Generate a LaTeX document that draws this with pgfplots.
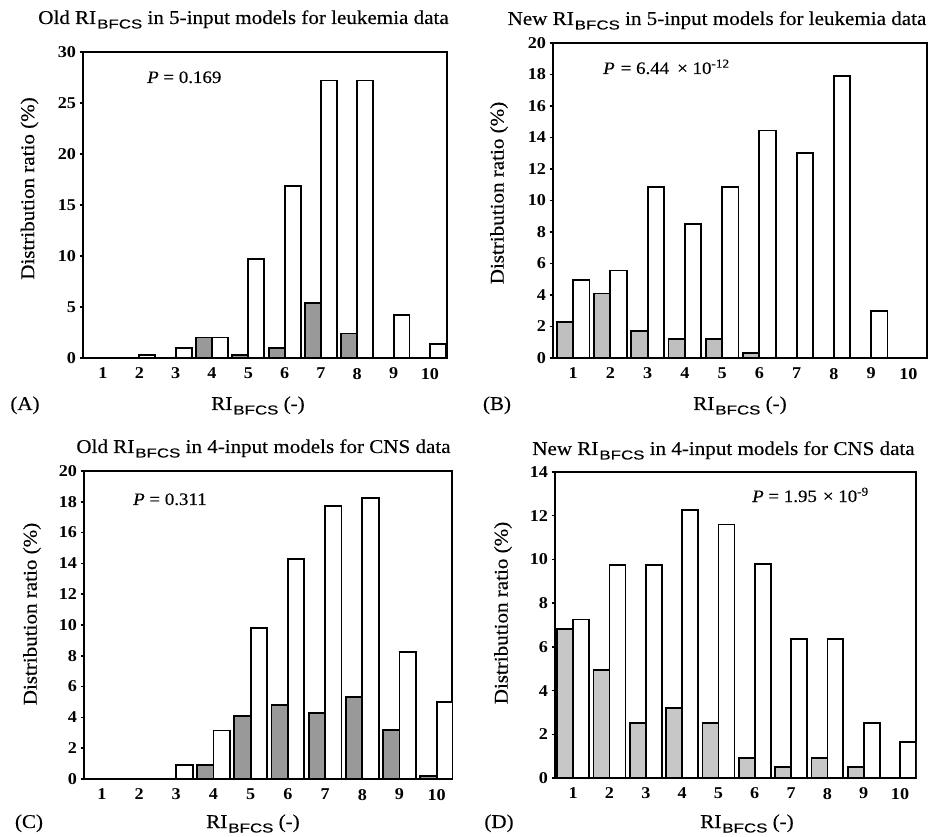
\documentclass[border=0pt]{standalone}
\usepackage{fontspec}
\setmainfont{Liberation Serif}[FakeStretch=1.08, FakeBold=0.3]
\newfontfamily\tickfont{Liberation Serif}[FakeStretch=1.1]
\newfontfamily\subfont{Liberation Sans}[FakeStretch=1.3, FakeBold=0.3]
\usepackage{pgfplots}
\pgfplotsset{compat=1.18}

\newcommand{\RI}{RI\kern1pt\raisebox{-4.5pt}{\fontsize{13}{13}\subfont BFCS}}
\newcommand{\ttl}{\fontsize{19.5}{22}\selectfont}
\newcommand{\pfont}{\fontsize{17.5}{20}\selectfont}

\pgfplotsset{
  panel/.style={
    scale only axis, anchor=south west,
    ymin=0, xtick={1,...,10},
    axis line style={line width=2pt},
    major tick length=3.5pt,
    tick align=outside,
    ytick pos=left,
    tick style={line width=1.5pt, black},
    xtick style={draw=none},
    tick label style={font=\fontsize{16.5}{16.5}\tickfont\bfseries},
    /pgf/number format/assume math mode=true,
    xticklabel style={yshift=-3pt},
    enlargelimits=false,
  },
  greybar/.style={ybar, bar width=0.44, bar shift=-0.22, draw=black, line width=1.8pt, fill=black!#1},
  whitebar/.style={ybar, bar width=0.44, bar shift=0.22, draw=black, line width=1.8pt, fill=white},
}

\pgfplotstableread{
x g w
1 0 0
2 0 0.3
3 0 0.95
4 2.0 2.0
5 0.3 9.7
6 1.0 16.9
7 5.4 27.2
8 2.4 27.2
9 0 4.2
10 0 1.35
}\dataA
\pgfplotstableread{
x g w
1 2.3 4.95
2 4.1 5.55
3 1.7 10.85
4 1.2 8.5
5 1.2 10.85
6 0.3 14.45
7 0 13.0
8 0 17.9
9 0 3.0
10 0 0
}\dataB
\pgfplotstableread{
x g w
1 0 0
2 0 0
3 0 0.9
4 0.9 3.15
5 4.1 9.8
6 4.8 14.3
7 4.3 17.75
8 5.3 18.25
9 3.2 8.25
10 0.2 5.0
}\dataC
\pgfplotstableread{
x g w
1 6.8 7.25
2 4.95 9.75
3 2.5 9.75
4 3.2 12.25
5 2.5 11.6
6 0.9 9.8
7 0.5 6.35
8 0.9 6.35
9 0.5 2.5
10 0 1.65
}\dataD

\begin{document}
\begin{tikzpicture}
\useasboundingbox (0pt,0pt) rectangle (931pt,836pt);

% Panel A
\begin{axis}[panel, at={(83pt,478pt)}, width=364pt, height=306pt,
  xmin=0.45, xmax=10.47, ymax=30, ytick={0,5,...,30}]
\addplot[greybar=40] table[x=x,y=g]{\dataA};
\addplot[whitebar] table[x=x,y=w]{\dataA};
\end{axis}

% Panel B
\begin{axis}[panel, at={(553pt,478pt)}, width=374pt, height=315pt,
  xmin=0.46, xmax=10.5, ymax=20, ytick={0,2,...,20}]
\addplot[greybar=25] table[x=x,y=g]{\dataB};
\addplot[whitebar] table[x=x,y=w]{\dataB};
\end{axis}

% Panel C
\begin{axis}[panel, at={(84pt,57pt)}, width=368pt, height=308pt,
  xmin=0.52, xmax=10.41, ymax=20, ytick={0,2,...,20}]
\addplot[greybar=40] table[x=x,y=g]{\dataC};
\addplot[whitebar] table[x=x,y=w]{\dataC};
\end{axis}

% Panel D
\begin{axis}[panel, at={(555pt,58pt)}, width=361pt, height=306pt,
  xmin=0.5, xmax=10.44, ymax=14, ytick={0,2,...,14}]
\addplot[greybar=22] table[x=x,y=g]{\dataD};
\addplot[whitebar] table[x=x,y=w]{\dataD};
\end{axis}

% Titles
\node[anchor=base] at (243.5pt,812pt) {\ttl Old \RI{} in 5-input models for leukemia data};
\node[anchor=base] at (717pt,811pt) {\ttl New \RI{} in 5-input models for leukemia data};
\node[anchor=base] at (263.5pt,383pt) {\ttl Old \RI{} in 4-input models for CNS data};
\node[anchor=base] at (723.5pt,381pt) {\ttl New \RI{} in 4-input models for CNS data};

% y labels
\node[rotate=90] at (29.5pt,647.5pt) {\ttl Distribution ratio (\%)};
\node[rotate=90] at (499pt,643pt) {\ttl Distribution ratio (\%)};
\node[rotate=90] at (32pt,222pt) {\ttl Distribution ratio (\%)};
\node[rotate=90] at (503pt,223pt) {\ttl Distribution ratio (\%)};

% x labels
\node[anchor=base] at (258pt,426pt) {\ttl \RI{} (-)};
\node[anchor=base] at (740pt,426pt) {\ttl \RI{} (-)};
\node[anchor=base] at (253pt,8pt) {\ttl \RI{} (-)};
\node[anchor=base] at (747pt,8pt) {\ttl \RI{} (-)};

% panel letters
\node[anchor=base] at (25pt,426pt) {\ttl (A)};
\node[anchor=base] at (497pt,426pt) {\ttl (B)};
\node[anchor=base] at (29pt,8pt) {\ttl (C)};
\node[anchor=base] at (499pt,8pt) {\ttl (D)};

% P values
\node[anchor=base west, inner sep=0pt] at (147pt,753pt) {\pfont\textit{P} = 0.169};
\node[anchor=base west, inner sep=0pt] at (603pt,762pt) {\pfont\textit{P}\hspace{6pt}= 6.44\hspace{8pt}× 10\textsuperscript{-12}};
\node[anchor=base west, inner sep=0pt] at (133pt,331pt) {\pfont\textit{P} = 0.311};
\node[anchor=base west, inner sep=0pt] at (752pt,334pt) {\pfont\textit{P} = 1.95\hspace{6pt}× 10\textsuperscript{-9}};
\end{tikzpicture}
\end{document}
